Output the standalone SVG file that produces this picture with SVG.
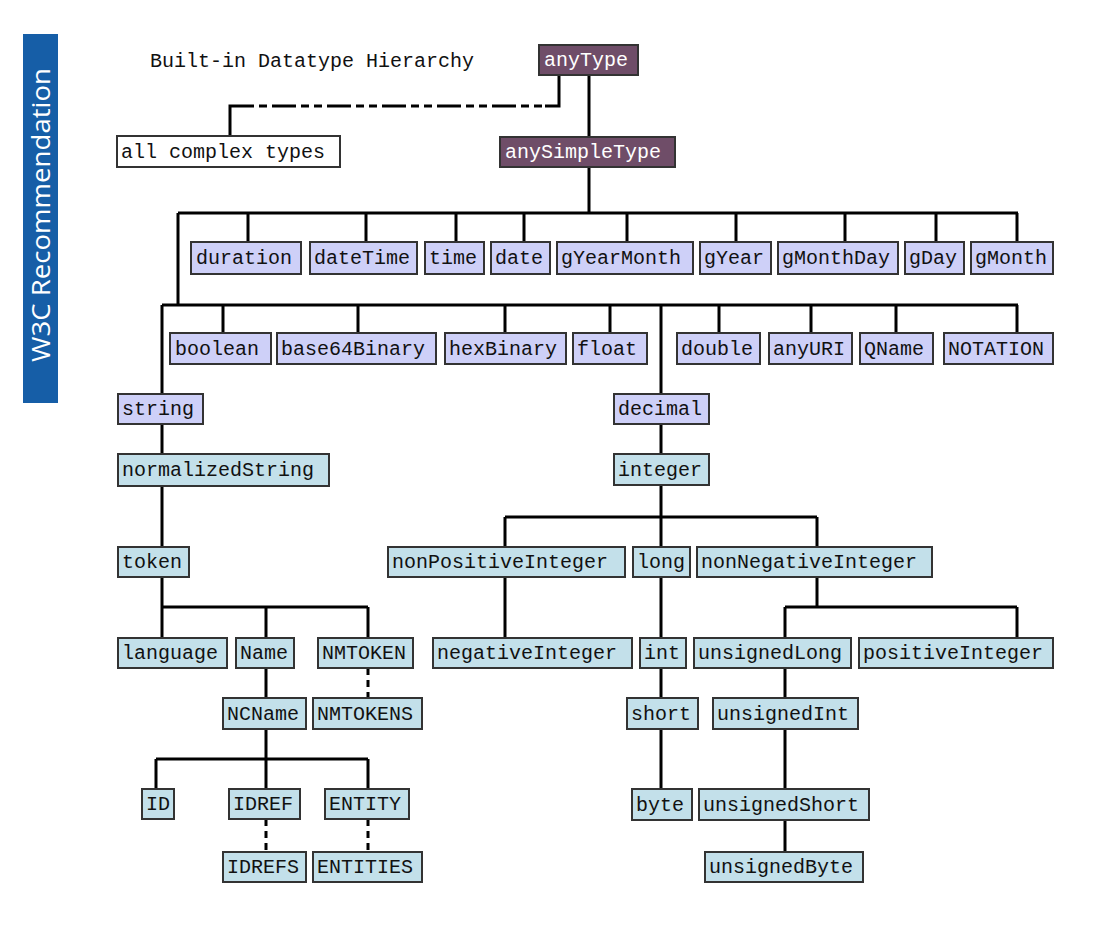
<svg xmlns="http://www.w3.org/2000/svg" width="1115" height="938" viewBox="0 0 1115 938">
<style>
.b{stroke:#333;stroke-width:2}
.p{fill:#ced0f8}
.d{fill:#c3e0ea}
.u{fill:#6f4d68}
.w{fill:#fff}
text{font-family:"Liberation Mono","Courier New",monospace;font-size:20px;fill:#111}
.u+text{fill:#fff}
.c path{fill:none;stroke:#000;stroke-width:3}
.c .dash{stroke-dasharray:7 5}
.c .dd{stroke-dasharray:8 5 8 5 24 5}
</style>
<rect width="1115" height="938" fill="#fff"/>
<rect x="23" y="34" width="35" height="369" fill="#165ea7"/>
<text transform="translate(50,362) rotate(-90)" style="font-family:'Open Sans','Liberation Sans',sans-serif;font-size:25px;fill:#fff" textLength="294" lengthAdjust="spacingAndGlyphs">W3C Recommendation</text>
<text x="150" y="67">Built-in Datatype Hierarchy</text>
<g class="c">
<path d="M589 75V137M589 167V213M178 213H1018M248 213V242M366 213V242M456 213V242M524 213V242M627 213V242M736 213V242M845 213V242M936 213V242M1017 213V242"/>
<path d="M230 136V106H246M545 106H559V75"/>
<path class="dd" d="M246 106H545"/>
<path d="M178 213V305M162 305H1018M223 305V333M358 305V333M505 305V333M610 305V333M719 305V333M811 305V333M896 305V333M1017 305V333M661 305V394M162 305V394"/>
<path d="M162 424V454M162 486V547M162 577V638M162 607H368M266 607V638M368 607V638M266 668V698M266 729V789M156 759H368M156 759V789M368 759V789"/>
<path class="dash" d="M368 668V698M266 819V852M368 819V852"/>
<path d="M661 424V454M661 485V547M505 517H817M505 517V547M817 517V547M505 577V638M661 577V638M661 668V698M661 729V789M817 577V607M785 607H1017M785 607V638M1017 607V638M785 668V698M785 729V789M785 820V852"/>
</g>
<g id="anyType"><rect class="b u" x="539" y="45" width="99" height="30"/><text x="544" y="66">anyType</text></g>
<g id="allComplexTypes"><rect class="b w" x="117" y="136" width="223" height="31"/><text x="121" y="158">all complex types</text></g>
<g id="anySimpleType"><rect class="b u" x="500" y="137" width="175" height="30"/><text x="505" y="158">anySimpleType</text></g>
<g id="duration"><rect class="b p" x="191" y="242" width="110" height="32"/><text x="196" y="264">duration</text></g>
<g id="dateTime"><rect class="b p" x="310" y="242" width="107" height="32"/><text x="314" y="264">dateTime</text></g>
<g id="time"><rect class="b p" x="425" y="242" width="59" height="32"/><text x="429" y="264">time</text></g>
<g id="date"><rect class="b p" x="491" y="242" width="59" height="32"/><text x="495" y="264">date</text></g>
<g id="gYearMonth"><rect class="b p" x="557" y="242" width="136" height="32"/><text x="561" y="264">gYearMonth</text></g>
<g id="gYear"><rect class="b p" x="700" y="242" width="71" height="32"/><text x="704" y="264">gYear</text></g>
<g id="gMonthDay"><rect class="b p" x="778" y="242" width="120" height="32"/><text x="782" y="264">gMonthDay</text></g>
<g id="gDay"><rect class="b p" x="905" y="242" width="59" height="32"/><text x="909" y="264">gDay</text></g>
<g id="gMonth"><rect class="b p" x="971" y="242" width="82" height="32"/><text x="975" y="264">gMonth</text></g>
<g id="boolean"><rect class="b p" x="170" y="333" width="101" height="31"/><text x="175" y="355">boolean</text></g>
<g id="base64Binary"><rect class="b p" x="277" y="333" width="159" height="31"/><text x="281" y="355">base64Binary</text></g>
<g id="hexBinary"><rect class="b p" x="445" y="333" width="121" height="31"/><text x="449" y="355">hexBinary</text></g>
<g id="float"><rect class="b p" x="573" y="333" width="74" height="31"/><text x="577" y="355">float</text></g>
<g id="double"><rect class="b p" x="677" y="333" width="83" height="31"/><text x="681" y="355">double</text></g>
<g id="anyURI"><rect class="b p" x="769" y="333" width="83" height="31"/><text x="773" y="355">anyURI</text></g>
<g id="QName"><rect class="b p" x="860" y="333" width="73" height="31"/><text x="864" y="355">QName</text></g>
<g id="NOTATION"><rect class="b p" x="944" y="333" width="109" height="31"/><text x="948" y="355">NOTATION</text></g>
<g id="string"><rect class="b p" x="118" y="394" width="85" height="30"/><text x="122" y="415">string</text></g>
<g id="decimal"><rect class="b p" x="614" y="394" width="95" height="30"/><text x="618" y="415">decimal</text></g>
<g id="normalizedString"><rect class="b d" x="118" y="454" width="211" height="32"/><text x="122" y="476">normalizedString</text></g>
<g id="integer"><rect class="b d" x="614" y="454" width="95" height="31"/><text x="618" y="476">integer</text></g>
<g id="token"><rect class="b d" x="118" y="547" width="71" height="30"/><text x="122" y="568">token</text></g>
<g id="nonPositiveInteger"><rect class="b d" x="388" y="547" width="237" height="30"/><text x="392" y="568">nonPositiveInteger</text></g>
<g id="long"><rect class="b d" x="633" y="547" width="57" height="30"/><text x="637" y="568">long</text></g>
<g id="nonNegativeInteger"><rect class="b d" x="697" y="547" width="235" height="30"/><text x="701" y="568">nonNegativeInteger</text></g>
<g id="language"><rect class="b d" x="118" y="638" width="109" height="30"/><text x="122" y="659">language</text></g>
<g id="Name"><rect class="b d" x="236" y="638" width="58" height="30"/><text x="240" y="659">Name</text></g>
<g id="NMTOKEN"><rect class="b d" x="318" y="638" width="95" height="30"/><text x="322" y="659">NMTOKEN</text></g>
<g id="negativeInteger"><rect class="b d" x="433" y="638" width="199" height="30"/><text x="437" y="659">negativeInteger</text></g>
<g id="int"><rect class="b d" x="640" y="638" width="46" height="30"/><text x="644" y="659">int</text></g>
<g id="unsignedLong"><rect class="b d" x="694" y="638" width="157" height="30"/><text x="698" y="659">unsignedLong</text></g>
<g id="positiveInteger"><rect class="b d" x="859" y="638" width="194" height="30"/><text x="863" y="659">positiveInteger</text></g>
<g id="NCName"><rect class="b d" x="223" y="698" width="83" height="31"/><text x="227" y="720">NCName</text></g>
<g id="NMTOKENS"><rect class="b d" x="313" y="698" width="109" height="31"/><text x="317" y="720">NMTOKENS</text></g>
<g id="short"><rect class="b d" x="627" y="698" width="71" height="31"/><text x="631" y="720">short</text></g>
<g id="unsignedInt"><rect class="b d" x="713" y="698" width="145" height="31"/><text x="717" y="720">unsignedInt</text></g>
<g id="ID"><rect class="b d" x="142" y="789" width="32" height="30"/><text x="146" y="810">ID</text></g>
<g id="IDREF"><rect class="b d" x="229" y="789" width="71" height="30"/><text x="233" y="810">IDREF</text></g>
<g id="ENTITY"><rect class="b d" x="325" y="789" width="84" height="30"/><text x="329" y="810">ENTITY</text></g>
<g id="byte"><rect class="b d" x="632" y="789" width="60" height="31"/><text x="636" y="811">byte</text></g>
<g id="unsignedShort"><rect class="b d" x="699" y="789" width="170" height="31"/><text x="703" y="811">unsignedShort</text></g>
<g id="IDREFS"><rect class="b d" x="223" y="852" width="83" height="30"/><text x="227" y="873">IDREFS</text></g>
<g id="ENTITIES"><rect class="b d" x="313" y="852" width="109" height="30"/><text x="317" y="873">ENTITIES</text></g>
<g id="unsignedByte"><rect class="b d" x="705" y="852" width="158" height="30"/><text x="709" y="873">unsignedByte</text></g>
</svg>
